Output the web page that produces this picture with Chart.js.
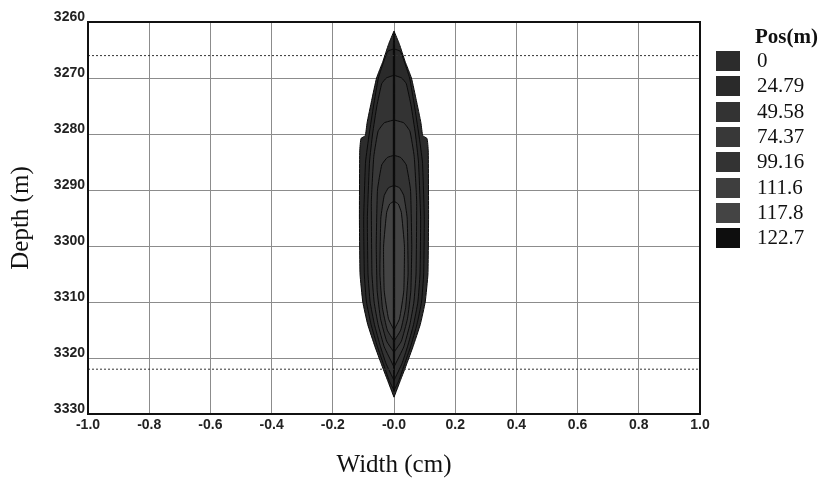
<!DOCTYPE html>
<html>
<head>
<meta charset="utf-8">
<script src="https://cdn.jsdelivr.net/npm/chart.js@4.4.1/dist/chart.umd.min.js"></script>
<style>
  body { margin: 0; background: #fff; }
  #wrap { position: relative; width: 823px; height: 482px; }
  #legend { position: absolute; left: 716px; top: 24px; font-family: "Liberation Serif", "Times New Roman", serif; color: #111; }
  #legend .ttl { position: absolute; left: 39px; top: 0; font-weight: bold; font-size: 21px; white-space: nowrap; }
  #legend .row { position: absolute; left: 0; height: 22px; white-space: nowrap; font-size: 21px; }
  #legend .box { position: absolute; left: 0; top: 1px; width: 24px; height: 20px; }
  #legend .lab { position: absolute; left: 41px; top: -2px; }
</style>
</head>
<body>
<div id="wrap">
  <canvas id="grafico" width="823" height="482"></canvas>
  <div id="legend"></div>
</div>
<script>
// posiciones del perfil (m)
let posiciones = ['0', '24.79', '49.58', '74.37', '99.16', '111.6', '117.8', '122.7']
let colores = ['#2c2c2c', '#2a2a2a', '#333333', '#383838', '#333333', '#3e3e3e', '#444444', '#0e0e0e']

// cada perfil: profundidad (m) y semi-ancho (cm)
let prof0 = [3261.6, 3264, 3267, 3270, 3274, 3278, 3280.3, 3280.8, 3283, 3295, 3305, 3310, 3314, 3318, 3321, 3324, 3327]
let ancho0 = [0, 0.018, 0.036, 0.057, 0.073, 0.088, 0.094, 0.108, 0.112, 0.113, 0.111, 0.102, 0.086, 0.062, 0.042, 0.021, 0]

let prof1 = [3264.8, 3265.2, 3266.5, 3270, 3275, 3280, 3285, 3295, 3305, 3310, 3314, 3318, 3321, 3324, 3325.8]
let ancho1 = [0, 0.02, 0.03, 0.051, 0.067, 0.081, 0.093, 0.099, 0.097, 0.09, 0.075, 0.054, 0.035, 0.016, 0]

let prof2 = [3269.5, 3270, 3271, 3275, 3280, 3285, 3295, 3305, 3310, 3314, 3318, 3321, 3324]
let ancho2 = [0, 0.025, 0.04, 0.056, 0.07, 0.08, 0.087, 0.085, 0.078, 0.064, 0.044, 0.026, 0]

let prof3 = [3277.5, 3278, 3279.5, 3284, 3292, 3305, 3310, 3314, 3318, 3321.6]
let ancho3 = [0, 0.032, 0.052, 0.066, 0.074, 0.072, 0.065, 0.052, 0.032, 0]

let prof4 = [3283.8, 3284.2, 3285.5, 3290, 3300, 3308, 3313, 3317, 3319]
let ancho4 = [0, 0.022, 0.04, 0.054, 0.058, 0.055, 0.044, 0.024, 0]

let prof5 = [3289.2, 3289.6, 3291, 3295, 3305, 3311, 3315, 3317]
let ancho5 = [0, 0.018, 0.032, 0.043, 0.046, 0.038, 0.022, 0]

let prof6 = [3292, 3292.5, 3294, 3300, 3308, 3313, 3315]
let ancho6 = [0, 0.014, 0.024, 0.034, 0.032, 0.018, 0]

let prof7 = [3262, 3264, 3320, 3326]
let ancho7 = [0, 0.002, 0.002, 0]

let perfiles = [[prof0, ancho0], [prof1, ancho1], [prof2, ancho2], [prof3, ancho3],
                [prof4, ancho4], [prof5, ancho5], [prof6, ancho6], [prof7, ancho7]]

// barreras (lineas punteadas)
let barreras = [3266, 3322]

let xTicks = ['-1.0', '-0.8', '-0.6', '-0.4', '-0.2', '-0.0', '0.2', '0.4', '0.6', '0.8', '1.0']
let yTicks = ['3260', '3270', '3280', '3290', '3300', '3310', '3320', '3330']

// contorno cerrado: lado derecho bajando, lado izquierdo subiendo
function contorno(prof, ancho){
    let puntos = []
    for (let i = 0; i < prof.length; i++) {
        puntos.push({ x: ancho[i], y: prof[i] })
    }
    for (let i = prof.length - 1; i >= 0; i--) {
        puntos.push({ x: -ancho[i], y: prof[i] })
    }
    return puntos
}

let datasets = []
perfiles.forEach((p, i) => {
    datasets.push({
        label: posiciones[i],
        data: contorno(p[0], p[1]),
        showLine: true,
        fill: 'shape',
        backgroundColor: colores[i],
        borderColor: '#0a0a0a',
        borderWidth: 1,
        pointRadius: 0,
        tension: 0.12,
        order: 20 - i
    })
})

barreras.forEach(b => {
    datasets.push({
        label: 'barrera',
        data: [{ x: -1, y: b }, { x: 1, y: b }],
        showLine: true,
        fill: false,
        borderColor: '#333',
        borderWidth: 1,
        borderDash: [2, 2],
        pointRadius: 0,
        order: 0
    })
})

let marco = {
    id: 'marco',
    afterDraw(chart){
        let a = chart.chartArea
        let ctx = chart.ctx
        ctx.save()
        ctx.strokeStyle = '#111'
        ctx.lineWidth = 2
        ctx.strokeRect(a.left, a.top, a.right - a.left, a.bottom - a.top)
        ctx.restore()
    }
}

let fuenteTick = { family: 'Liberation Sans, Arial, sans-serif', size: 14, weight: 'bold' }
let fuenteTitulo = { family: 'Liberation Serif, Times New Roman, serif', size: 25 }

new Chart(document.querySelector('#grafico'), {
    type: 'scatter',
    data: { datasets: datasets },
    options: {
        responsive: false,
        animation: false,
        layout: { padding: { left: 0, top: 22, right: 123, bottom: 0 } },
        plugins: { legend: { display: false }, tooltip: { enabled: false } },
        scales: {
            x: {
                type: 'linear',
                min: -1, max: 1,
                afterFit: s => { s.height = 68 },
                afterBuildTicks: s => { s.ticks = xTicks.map(t => ({ value: parseFloat(t) })) },
                ticks: {
                    color: '#222', font: fuenteTick, padding: 3, maxRotation: 0,
                    callback: (v, i) => xTicks[i]
                },
                grid: { color: '#8c8c8c', lineWidth: 1, drawTicks: false },
                border: { display: false },
                title: { display: true, text: 'Width (cm)', color: '#111', font: fuenteTitulo, padding: { top: 0, bottom: 2 } }
            },
            y: {
                type: 'linear',
                min: 3260, max: 3330,
                reverse: true,
                afterFit: s => { s.width = 88 },
                afterBuildTicks: s => { s.ticks = yTicks.map(t => ({ value: parseFloat(t) })) },
                ticks: {
                    color: '#222', font: fuenteTick, padding: 3, labelOffset: -5,
                    callback: (v, i) => yTicks[i]
                },
                grid: { color: '#8c8c8c', lineWidth: 1, drawTicks: false },
                border: { display: false },
                title: { display: true, text: 'Depth (m)', color: '#111', font: fuenteTitulo, padding: { top: 6, bottom: 0 } }
            }
        }
    },
    plugins: [marco]
})

// leyenda
let leyenda = document.querySelector('#legend')
leyenda.innerHTML = `<div class="ttl">Pos(m)</div>`
posiciones.forEach((p, i) => {
    leyenda.innerHTML += `<div class="row" style="top:${26 + i * 25.3}px"><div class="box" style="background:${colores[i]}"></div><div class="lab">${p}</div></div>`
})
</script>
</body>
</html>
